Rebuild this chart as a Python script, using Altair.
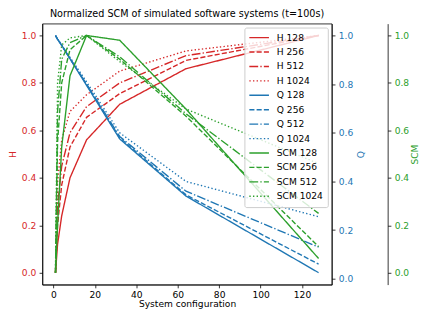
import altair as alt
import pandas as pd

x_vals = [1, 2, 4, 8, 16, 32, 64, 128]

series_names = ["H 128", "H 256", "H 512", "H 1024",
                "Q 128", "Q 256", "Q 512", "Q 1024",
                "SCM 128", "SCM 256", "SCM 512", "SCM 1024"]

H128 = [0.0, 0.12, 0.24, 0.40, 0.56, 0.71, 0.86, 1.0]
H256 = [0.0, 0.20, 0.37, 0.53, 0.655, 0.755, 0.895, 1.0]
H512 = [0.0, 0.28, 0.45, 0.59, 0.70, 0.80, 0.915, 1.0]
H1024 = [0.0, 0.38, 0.56, 0.68, 0.75, 0.85, 0.935, 1.0]

Q128 = [1.0, 0.985, 0.96, 0.905, 0.795, 0.575, 0.34, 0.025]
Q256 = [1.0, 0.985, 0.96, 0.905, 0.80, 0.58, 0.345, 0.06]
Q512 = [1.0, 0.985, 0.96, 0.905, 0.80, 0.585, 0.36, 0.13]
Q1024 = [1.0, 0.985, 0.96, 0.91, 0.81, 0.60, 0.40, 0.255]

SCM128 = [0.0, 0.20, 0.53, 0.83, 1.0, 0.98, 0.69, 0.06]
SCM256 = [0.0, 0.55, 0.80, 0.94, 1.0, 0.90, 0.66, 0.11]
SCM512 = [0.0, 0.68, 0.90, 0.97, 1.0, 0.91, 0.67, 0.25]
SCM1024 = [0.0, 0.80, 0.96, 0.99, 1.0, 0.89, 0.69, 0.46]

all_series = [H128, H256, H512, H1024, Q128, Q256, Q512, Q1024,
              SCM128, SCM256, SCM512, SCM1024]
metrics = ["H"] * 4 + ["Q"] * 4 + ["SCM"] * 4

RED, BLUE, GREEN = "#d62728", "#1f77b4", "#2ca02c"
colors = [RED] * 4 + [BLUE] * 4 + [GREEN] * 4
dashes = [[1, 0], [5.2, 2.2], [9, 2.2, 1.4, 2.2], [1.4, 2.3]] * 3

rows = []
for name, metric, vals in zip(series_names, metrics, all_series):
    for xv, v in zip(x_vals, vals):
        rows.append({"x": xv, "series": name, "metric": metric, "value": v})
df = pd.DataFrame(rows)

FONT = "DejaVu Sans"
FS = 9.3

xscale = alt.Scale(domain=[-5.35, 134.35], nice=False, zero=False)
xaxis = alt.Axis(title="System configuration", values=[0, 20, 40, 60, 80, 100, 120],
                 format="d", labelFlush=False, labelPadding=2.8, titlePadding=0)

legend = alt.Legend(orient="none", legendX=206, legendY=4, title=None,
                    symbolType="stroke", symbolSize=400, symbolStrokeWidth=1.4,
                    labelFont=FONT, labelFontSize=FS, labelColor="black",
                    clipHeight=12.5, rowPadding=1.7, padding=4, labelOffset=7,
                    fillColor="rgba(255,255,255,0.8)", strokeColor="#cccccc",
                    cornerRadius=2)

cscale = alt.Scale(domain=series_names, range=colors)
dscale = alt.Scale(domain=series_names, range=dashes)

yticks = [0.0, 0.2, 0.4, 0.6, 0.8, 1.0]


def layer(metric, domain, axis):
    return alt.Chart(df).transform_filter(
        alt.datum.metric == metric
    ).mark_line(strokeWidth=1.4).encode(
        x=alt.X("x:Q", scale=xscale, axis=xaxis),
        y=alt.Y("value:Q", scale=alt.Scale(domain=domain, nice=False, zero=False), axis=axis),
        color=alt.Color("series:N", scale=cscale, legend=legend),
        strokeDash=alt.StrokeDash("series:N", scale=dscale, legend=legend),
    )


h_axis = alt.Axis(orient="left", title="H", values=yticks, format=".1f",
                  labelColor=RED, titleColor=RED, labelFlush=False, titlePadding=4)
q_axis = alt.Axis(orient="right", title="Q", values=yticks, format=".1f",
                  labelColor=BLUE, titleColor=BLUE, labelFlush=False,
                  titleAngle=270, titleBaseline="top", titlePadding=4)
s_axis = alt.Axis(orient="right", title="SCM", values=yticks, format=".1f", offset=57,
                  labelColor=GREEN, titleColor=GREEN, labelFlush=False,
                  titleAngle=270, titleBaseline="top", titlePadding=2)

chart = alt.layer(
    layer("H", [-0.05, 1.05], h_axis),
    layer("Q", [-0.024, 1.049], q_axis),
    layer("SCM", [-0.05, 1.05], s_axis),
).resolve_scale(
    y="independent"
).properties(
    width=295,
    height=266,
    title=alt.TitleParams("Normalized SCM of simulated software systems (t=100s)",
                          font=FONT, fontSize=9.8, fontWeight="normal",
                          anchor="middle", offset=5, color="black"),
    padding={"left": 35, "top": 13, "right": 92, "bottom": 25},
    autosize=alt.AutoSizeParams(type="none"),
).configure_view(
    stroke="black", strokeWidth=0.8
).configure_axis(
    labelFont=FONT, titleFont=FONT, labelFontSize=FS, titleFontSize=FS,
    titleFontWeight="normal", grid=False, tickSize=3.3, labelPadding=3.3,
    domainColor="black", tickColor="black", domainWidth=0.8, tickWidth=0.8,
    labelOverlap=False, titleColor="black", labelColor="black"
)

chart.save("out.html", embed_options={"renderer": "svg", "actions": False})
